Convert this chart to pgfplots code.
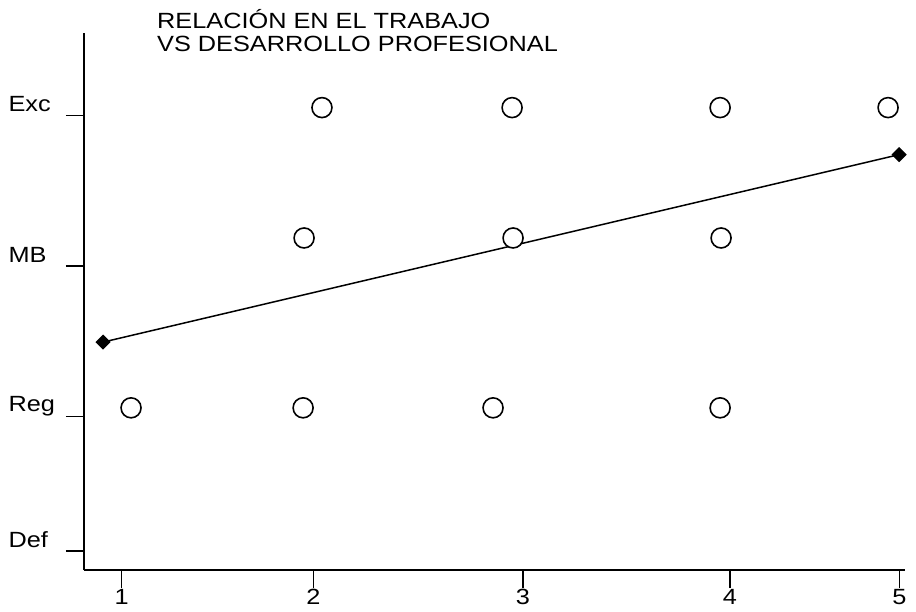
\documentclass[border=0pt]{standalone}
\usepackage{fontspec}
\setmainfont{Liberation Sans}[FakeStretch=1.15]
\usepackage{pgfplots}
\pgfplotsset{compat=1.18}
\begin{document}
\begin{tikzpicture}
\path[use as bounding box] (0pt,0pt) rectangle (916pt,611pt);
\begin{axis}[
  at={(84pt,41pt)}, anchor=south west,
  scale only axis, width=821pt, height=537pt,
  xmin=0.806, xmax=5.029, ymin=0.983, ymax=4.546,
  axis x line*=bottom, axis y line*=left,
  axis line style={line width=1.6pt, black},
  xtick={1,1.986,3.063,4.129,5}, xticklabels={1,2,3,4,5},
  ytick={1.109,2,3,4}, yticklabels={Def,Reg,MB,Exc},
  tick align=outside, major tick length=18pt,
  tick style={line width=1.5pt, black},
  every tick label/.append style={font=\fontsize{22}{24}\selectfont},
  xticklabel style={inner sep=1pt},
  yticklabel style={anchor=west, xshift=-61pt, yshift=11pt},
  /pgf/number format/assume math mode=true,
  clip=false,
]
\addplot[black, line width=1.5pt, mark=square*, mark size=4.6pt,
  mark options={fill=black, rotate=45}] coordinates {(0.904,2.495) (4.999,3.739)};
\addplot[only marks, mark=*, mark size=10pt,
  mark options={draw=black, fill=white, line width=1.6pt}] coordinates {
  (2.030,4.051) (3.008,4.051) (4.078,4.051) (4.942,4.051)
  (1.938,3.186) (3.013,3.186) (4.083,3.186)
  (1.048,2.059) (1.933,2.059) (2.910,2.059) (4.078,2.059)
};
\end{axis}
\node[anchor=base west, inner sep=0pt, font=\fontsize{22}{24}\selectfont] at (157pt,582pt) {RELACIÓN EN EL TRABAJO};
\node[anchor=base west, inner sep=0pt, font=\fontsize{22}{24}\selectfont] at (157pt,559pt) {VS DESARROLLO PROFESIONAL};
\end{tikzpicture}
\end{document}
